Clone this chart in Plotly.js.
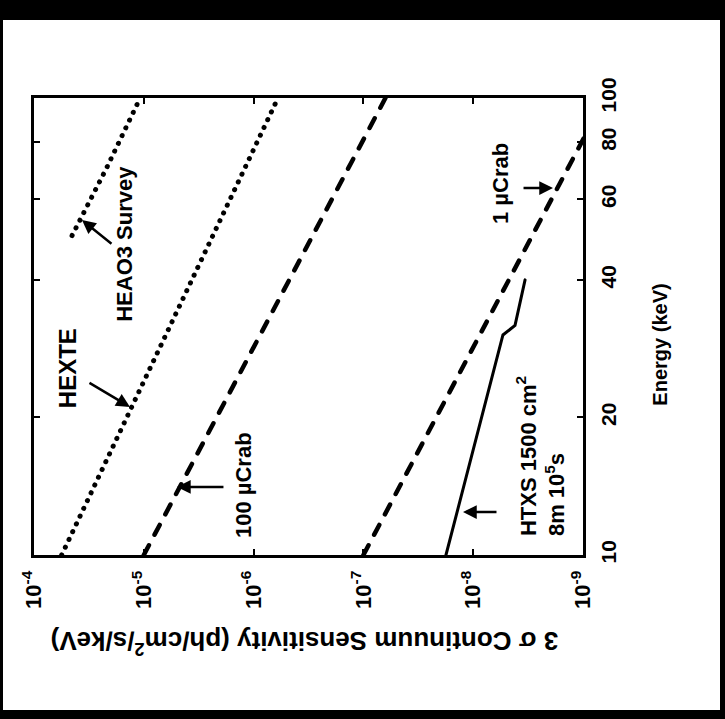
<!DOCTYPE html>
<html>
<head>
<meta charset="utf-8">
<script src="https://cdn.plot.ly/plotly-3.0.1.min.js"></script>
<style>
  html, body { margin: 0; padding: 0; background: #000; width: 725px; height: 719px; overflow: hidden; }
  #plot { position: absolute; left: 3px; top: 20px; width: 717px; height: 690px; background: #fff; }
  .scatterlayer path.js-line { stroke-linecap: round; }
</style>
</head>
<body>
<div id="plot"></div>
<script>
// ---- data (energy in keV, 3-sigma continuum sensitivity in ph/cm^2/s/keV) ----
const energyHEXTE = [10, 15, 20, 30, 40, 60, 80, 100];
const sensHEXTE   = [5.6e-5, 2.5e-5, 1.43e-5, 6.4e-6, 3.65e-6, 1.64e-6, 9.3e-7, 6.0e-7];

const energyHEAO3 = [50, 70, 100];
const sensHEAO3   = [4.5e-5, 2.2e-5, 1.08e-5];

const energy100uCrab = [10, 20, 40, 60, 80, 100];
const sens100uCrab   = [1.0e-5, 2.18e-6, 4.7e-7, 1.94e-7, 1.03e-7, 6.3e-8];

const energy1uCrab = [10, 20, 40, 60, 80, 100];
const sens1uCrab   = [1.0e-7, 2.18e-8, 4.7e-9, 1.94e-9, 1.03e-9, 6.3e-10];

const energyHTXS = [10, 20, 30.3, 31.8, 40];
const sensHTXS   = [1.77e-8, 8.4e-9, 5.36e-9, 4.16e-9, 3.37e-9];

const sensTickVals = [1e-4, 1e-5, 1e-6, 1e-7, 1e-8, 1e-9];
const sensTickText = ['10<sup>-4</sup>', '10<sup>-5</sup>', '10<sup>-6</sup>', '10<sup>-7</sup>', '10<sup>-8</sup>', '10<sup>-9</sup>'];
const energyTickVals = [10, 20, 40, 60, 80, 100];
const energyTickText = ['10', '20', '40', '60', '80', '100'];

// ---- figure (whole chart drawn rotated: sensitivity horizontal, energy vertical) ----
const FONT = 'Liberation Sans, Arial, Helvetica, sans-serif';
const dotted = { color: '#000', width: 5, dash: '0.1px,8.5px' };
const dashed = { color: '#000', width: 4.5, dash: '11px,12px' };

const traces = [
  { x: sensHEXTE, y: energyHEXTE, mode: 'lines', line: dotted, name: 'HEXTE' },
  { x: sensHEAO3, y: energyHEAO3, mode: 'lines', line: dotted, name: 'HEAO3 Survey' },
  { x: sens100uCrab, y: energy100uCrab, mode: 'lines', line: dashed, name: '100 µCrab' },
  { x: sens1uCrab, y: energy1uCrab, mode: 'lines', line: dashed, name: '1 µCrab' },
  { x: sensHTXS, y: energyHTXS, mode: 'lines', line: { color: '#000', width: 3 }, name: 'HTXS' }
];

const lbl = (text, x, y, extra) => Object.assign({
  text: text, x: x, y: y, xref: 'x', yref: 'y', showarrow: false, textangle: -90,
  xanchor: 'center', yanchor: 'middle',
  font: { family: FONT, size: 22, color: '#000', weight: 'bold' }
}, extra || {});
const arrow = (x, y, ax, ay) => ({
  text: '', x: x, y: y, xref: 'x', yref: 'y', ax: ax, ay: ay, showarrow: true,
  arrowhead: 2, arrowsize: 1.1, arrowwidth: 2.5, arrowcolor: '#000', standoff: 0
});

const layout = {
  width: 717, height: 690,
  margin: { l: 31, r: 137, t: 78, b: 155 },
  paper_bgcolor: '#fff', plot_bgcolor: '#fff',
  showlegend: false,
  font: { family: FONT, color: '#000', weight: 'bold' },
  xaxis: {
    type: 'log', range: [-4, -9], autorange: false,
    tickmode: 'array', tickvals: sensTickVals, ticktext: sensTickText,
    tickangle: -90, ticks: 'inside', ticklen: 6, tickwidth: 2, tickcolor: '#000',
    showline: true, linewidth: 3, linecolor: '#000', mirror: 'ticks',
    showgrid: false, zeroline: false, ticklabelstandoff: 4,
    tickfont: { family: FONT, size: 22, color: '#000', weight: 'bold' }
  },
  yaxis: {
    type: 'log', range: [1, 2], autorange: false, side: 'right',
    tickmode: 'array', tickvals: energyTickVals, ticktext: energyTickText,
    tickangle: -90, ticks: 'inside', ticklen: 6, tickwidth: 2, tickcolor: '#000',
    showline: true, linewidth: 3, linecolor: '#000', mirror: 'ticks',
    showgrid: false, zeroline: false, ticklabelstandoff: 5,
    tickfont: { family: FONT, size: 21, color: '#000', weight: 'bold' }
  },
  annotations: [
    lbl('HEXTE', -4.301, 1.409, { font: { family: FONT, size: 24, color: '#000', weight: 'bold' } }),
    lbl('HEAO3 Survey', -4.829, 1.681),
    lbl('100 µCrab', -5.903, 1.153),
    lbl('1 µCrab', -8.244, 1.814),
    lbl('HTXS 1500 cm<sup>2</sup><br>8m 10<sup>5</sup>s', -8.62, 1.217, { align: 'left' }),
    arrow(-4.874, 1.324, -42, -25),
    arrow(-4.437, 1.733, 31, 25),
    arrow(-5.302, 1.149, 48, 0),
    arrow(-7.907, 1.094, 35, 0),
    arrow(-8.727, 1.803, -31, 0),
    {
      text: '3 σ Continuum Sensitivity (ph/cm<sup>2</sup>/s/keV)',
      xref: 'paper', yref: 'paper', x: 0.492, y: -0.19, showarrow: false,
      textangle: 180, xanchor: 'center', yanchor: 'middle',
      font: { family: FONT, size: 26, color: '#000', weight: 'bold' }
    },
    {
      text: 'Energy (keV)',
      xref: 'paper', yref: 'paper', x: 1.14, y: 0.46, showarrow: false,
      textangle: -90, xanchor: 'center', yanchor: 'middle',
      font: { family: FONT, size: 20, color: '#000', weight: 'bold' }
    }
  ]
};

Plotly.newPlot('plot', traces, layout, { staticPlot: true, displayModeBar: false });
</script>
</body>
</html>
